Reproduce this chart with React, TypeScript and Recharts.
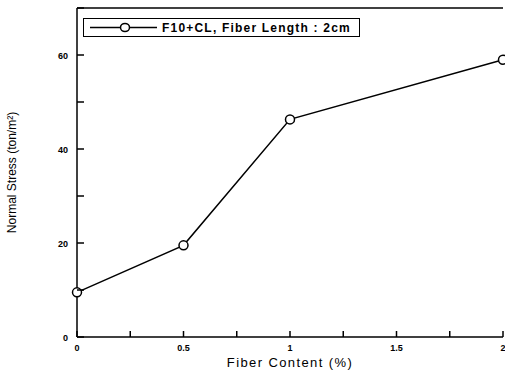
import React from "react";
import { LineChart, Line, XAxis, YAxis, ReferenceLine } from "recharts";

const fiberContent = [0, 0.5, 1, 2];
const normalStress = [9.5, 19.5, 46.3, 59];
const xTicks = [0, 0.25, 0.5, 0.75, 1, 1.25, 1.5, 1.75, 2];
const xLabels = ["0", "0.5", "1", "1.5", "2"];
const yTicks = [0, 10, 20, 30, 40, 50, 60, 70];
const yLabels = ["0", "20", "40", "60"];
const seriesName = "F10+CL, Fiber Length : 2cm";

const data = fiberContent.map((x, i) => ({ x, y: normalStress[i] }));

const FONT = "'Liberation Sans', Arial, sans-serif";
const AXIS_X = 77;
const AXIS_Y = 337;

function XTick(props: any) {
  const { x, payload } = props;
  const label = String(payload.value);
  return (
    <g>
      <line x1={x} y1={AXIS_Y} x2={x} y2={AXIS_Y - 6} stroke="#000" strokeWidth={1.5} />
      {xLabels.includes(label) && (
        <text x={x} y={AXIS_Y + 14} textAnchor="middle" fontSize={9} fontWeight="bold" fontFamily={FONT} fill="#000">
          {label}
        </text>
      )}
    </g>
  );
}

function YTick(props: any) {
  const { y, payload } = props;
  const label = String(payload.value);
  return (
    <g>
      <line x1={AXIS_X} y1={y} x2={AXIS_X + 7} y2={y} stroke="#000" strokeWidth={1.5} />
      {yLabels.includes(label) && (
        <text x={AXIS_X - 9} y={y + 3.5} textAnchor="end" fontSize={9} fontWeight="bold" fontFamily={FONT} fill="#000">
          {label}
        </text>
      )}
    </g>
  );
}

function LegendBox() {
  return (
    <div
      style={{
        position: "absolute",
        left: 83,
        top: 18,
        border: "1.5px solid #000",
        width: 275,
        height: 17,
        display: "flex",
        alignItems: "center",
        background: "#fff",
        fontFamily: FONT,
        whiteSpace: "nowrap",
      }}
    >
      <svg width={74} height={17}>
        <line x1={6} y1={8.5} x2={73} y2={8.5} stroke="#000" strokeWidth={1.5} />
        <ellipse cx={41} cy={8.5} rx={4.5} ry={4} fill="#fff" stroke="#000" strokeWidth={1.5} />
      </svg>
      <span style={{ fontSize: 12, fontWeight: "bold", marginLeft: 4, letterSpacing: 1.2 }}>{seriesName}</span>
    </div>
  );
}

export default function App() {
  return (
    <div style={{ position: "fixed", left: 0, top: 0, width: 505, height: 370, background: "#fff" }}>
      <LineChart width={505} height={370} data={data} margin={{ top: 8, right: 2, bottom: 0, left: 0 }}>
        <XAxis
          dataKey="x"
          type="number"
          domain={[0, 2]}
          ticks={xTicks}
          interval={0}
          height={33}
          axisLine={{ stroke: "#000", strokeWidth: 1.5 }}
          tickLine={false}
          tick={<XTick />}
          label={{ value: "Fiber  Content (%)", position: "insideBottom", offset: 3, fontSize: 13, fontFamily: FONT, fill: "#000", letterSpacing: 1.4 }}
        />
        <YAxis
          type="number"
          domain={[0, 70]}
          ticks={yTicks}
          interval={0}
          width={77}
          axisLine={{ stroke: "#000", strokeWidth: 1.5 }}
          tickLine={false}
          tick={<YTick />}
          label={{ value: "Normal Stress (ton/m²)", angle: -90, position: "insideLeft", offset: 12, fontSize: 12, fontFamily: FONT, fill: "#000", style: { textAnchor: "middle" } }}
        />
        <ReferenceLine y={70} stroke="#000" strokeWidth={1.5} />
        <Line
          type="linear"
          dataKey="y"
          name={seriesName}
          stroke="#000"
          strokeWidth={1.5}
          dot={{ r: 4.5, fill: "#fff", stroke: "#000", strokeWidth: 1.5 }}
          isAnimationActive={false}
        />
      </LineChart>
      <LegendBox />
    </div>
  );
}
